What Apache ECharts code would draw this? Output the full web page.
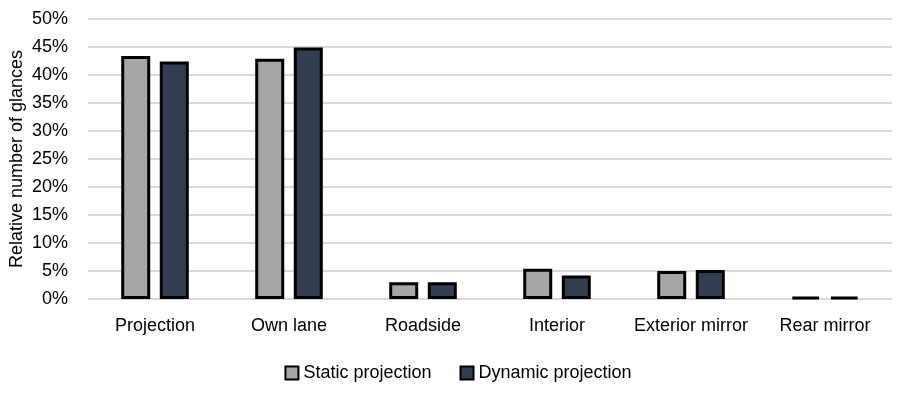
<!DOCTYPE html>
<html><head><meta charset="utf-8">
<script src="https://cdn.jsdelivr.net/npm/echarts@6/dist/echarts.min.js"></script>
<style>html,body{margin:0;padding:0;background:#fff}#c{width:916px;height:394px}</style>
</head><body><div id="c"></div>
<script>
var categories = ["Projection","Own lane","Roadside","Interior","Exterior mirror","Rear mirror"];
var staticVals = [43.4, 42.9, 3.0, 5.4, 5.0, 0.4];
var dynamicVals = [42.4, 44.9, 3.0, 4.2, 5.2, 0.4];
var seriesNames = ["Static projection","Dynamic projection"];
var yTicks = [0,5,10,15,20,25,30,35,40,45,50];
var FONT = "'Liberation Sans', Arial, sans-serif";
var chart = echarts.init(document.getElementById('c'));
chart.setOption({
  animation:false,
  textStyle:{fontFamily:FONT},
  grid:{left:88,right:24,top:19,bottom:95,containLabel:false,outerBoundsMode:'none'},
  legend:{
    bottom:7, left:'center', itemWidth:13, itemHeight:13, itemGap:28, icon:'rect',
    itemStyle:{borderColor:'#000',borderWidth:2},
    textStyle:{fontFamily:FONT,fontSize:18,color:'#000'},
    data:seriesNames
  },
  xAxis:{
    type:'category', data:categories,
    axisLine:{show:false}, axisTick:{show:false},
    axisLabel:{fontFamily:FONT,fontSize:18,color:'#000',margin:18,interval:0,hideOverlap:false}
  },
  yAxis:{
    type:'value', min:yTicks[0], max:yTicks[yTicks.length-1], interval:5,
    name:'Relative number of glances', nameLocation:'middle', nameGap:62, nameMoveOverlap:false,
    nameTextStyle:{fontFamily:FONT,fontSize:18,color:'#000'},
    axisLine:{show:false}, axisTick:{show:false},
    axisLabel:{fontFamily:FONT,fontSize:18,color:'#000',margin:20,formatter:'{value}%'},
    splitLine:{lineStyle:{color:'#D9D9D9',width:2}}
  },
  series:[
    {name:seriesNames[0],type:'bar',data:staticVals,barWidth:29,barGap:'33%',
     itemStyle:{color:'#A6A6A6',borderColor:'#000',borderWidth:3}},
    {name:seriesNames[1],type:'bar',data:dynamicVals,barWidth:29,barGap:'33%',
     itemStyle:{color:'#333F50',borderColor:'#000',borderWidth:3}}
  ]
});
</script></body></html>
